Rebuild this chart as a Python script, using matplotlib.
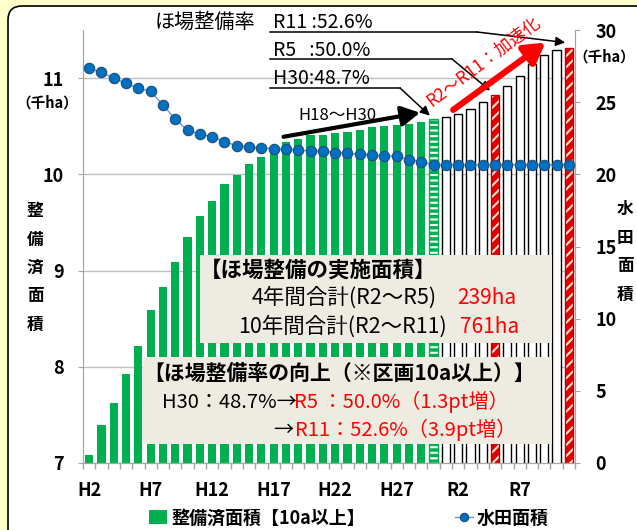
import matplotlib
matplotlib.use("Agg")
import matplotlib.pyplot as plt
import numpy as np
from matplotlib.patches import FancyBboxPatch, Rectangle, Patch
from matplotlib.lines import Line2D

plt.rcParams['font.family'] = ['Noto Sans CJK JP', 'DejaVu Sans']
plt.rcParams['hatch.linewidth'] = 1.5

# categories: H2 .. H30, R1 .. R11
cats = [f'H{i}' for i in range(2, 31)] + [f'R{i}' for i in range(1, 12)]
tick_pos = [0, 5, 10, 15, 20, 25, 30, 35]
tick_labels = ['H2', 'H7', 'H12', 'H17', 'H22', 'H27', 'R2', 'R7']

# 整備済面積 (千ha, left axis)
seibi = [7.08, 7.39, 7.62, 7.93, 8.22, 8.59, 8.83, 9.09, 9.35, 9.57,
         9.72, 9.90, 9.99, 10.11, 10.18, 10.26, 10.34, 10.37, 10.41, 10.41,
         10.43, 10.44, 10.46, 10.49, 10.50, 10.51, 10.52, 10.54, 10.57, 10.60,
         10.63, 10.68, 10.75, 10.82, 10.92, 11.02, 11.15, 11.24, 11.29, 11.31]

# 水田面積 (千ha, right axis)
suiden = [27.34, 27.06, 26.67, 26.30, 25.97, 25.74, 24.81, 23.82, 23.06, 22.78,
          22.62, 22.27, 21.97, 21.90, 21.81, 21.78, 21.74, 21.69, 21.62, 21.62,
          21.50, 21.46, 21.39, 21.34, 21.27, 21.27, 21.02, 20.88, 20.65, 20.67,
          20.67, 20.67, 20.67, 20.67, 20.67, 20.67, 20.67, 20.67, 20.67, 20.67]

i_h30 = cats.index('H30')
i_r5 = cats.index('R5')
i_r11 = cats.index('R11')

GREEN = '#00B050'
RED = '#E00000'
GREY = '#A6A6A6'

W, H = 637, 530


def fx(px):
    return px / W


def fy(py):
    return 1 - py / H


fig = plt.figure(figsize=(W / 100, H / 100), dpi=100, facecolor='#FFFFCC')

# white rounded panel
panel = FancyBboxPatch((0.08, -0.3), 7.0, (H - 6) / 100 + 0.3,
                       boxstyle='round,pad=0,rounding_size=0.14',
                       transform=fig.dpi_scale_trans, facecolor='white',
                       edgecolor='black', lw=1.2, zorder=-1)
fig.add_artist(panel)

ax = fig.add_axes([fx(83), fy(463), (575 - 83) / W, (463 - 30) / H])
ax.patch.set_visible(False)
ax2 = ax.twinx()

x = np.arange(len(cats))
bw = 0.66

past = [i for i in x if i < i_h30]
plan = [i for i in x if i > i_h30 and i not in (i_r5, i_r11)]
red = [i_r5, i_r11]

ax.bar(past, [seibi[i] for i in past], width=bw, color=GREEN, zorder=2)
ax.bar(i_h30, seibi[i_h30], width=bw, color=GREEN, edgecolor='white',
       hatch='---', lw=0, zorder=2)
ax.bar(i_h30, seibi[i_h30], width=bw, fill=False, edgecolor=GREEN, lw=1, zorder=2)
ax.bar(plan, [seibi[i] for i in plan], width=bw, color='white',
       edgecolor='black', lw=1, zorder=2)
ax.bar(red, [seibi[i] for i in red], width=bw, color=RED, edgecolor='#FFE6D5',
       hatch='///', lw=0, zorder=2)
ax.bar(red, [seibi[i] for i in red], width=bw, fill=False, edgecolor='#C00000',
       lw=1, zorder=2)

ax2.plot(x, suiden, color='#5B9BD5', lw=1, marker='o', ms=7.5,
         mfc='#0070C0', mec='#1F4E79', mew=0.8, zorder=3)

ax.set_xlim(-0.5, len(cats) - 0.5)
ax.set_ylim(7, 11.5)
ax2.set_ylim(0, 30)
ax.set_yticks([7, 8, 9, 10, 11])
ax2.set_yticks([0, 5, 10, 15, 20, 25, 30])
ax.set_xticks(tick_pos)
ax.set_xticklabels(tick_labels)
ax.set_xticks(np.arange(-0.5, len(cats), 1), minor=True)
ax.tick_params(axis='x', which='major', length=0, pad=13, labelsize=13)
ax.tick_params(axis='x', which='minor', length=4.5, color=GREY, width=1)
ax.tick_params(axis='y', length=3.6, color=GREY, pad=10, labelsize=13)
ax2.tick_params(axis='y', length=3.6, color=GREY, pad=11, labelsize=13)
for t in ax.get_xticklabels() + ax.get_yticklabels() + ax2.get_yticklabels():
    t.set_fontweight('bold')
for a in (ax, ax2):
    a.spines['top'].set_visible(False)
    for s in ('left', 'right', 'bottom'):
        a.spines[s].set_color(GREY)
ax.grid(axis='y', color='#BFBFBF', lw=1)
ax.set_axisbelow(True)

# axis captions
fig.text(fx(35), fy(268), '\n'.join('整備済面積'), ha='center', va='center',
         fontsize=12, fontweight='bold', linespacing=1.75)
fig.text(fx(47), fy(103), '（千ha）', ha='center', va='center', fontsize=10.5,
         fontweight='bold')
fig.text(fx(625), fy(252), '\n'.join('水田面積'), ha='center', va='center',
         fontsize=12, fontweight='bold', linespacing=1.75)
fig.text(fx(635), fy(57), '（千ha）', ha='right', va='center', fontsize=10.5,
         fontweight='bold')

# top labels and arrows to bars
fig.text(fx(155), fy(22), 'ほ場整備率', ha='left', va='center', fontsize=14.5)
rates = [('R11 :52.6%', 22, 32, 477, i_r11 - 0.3, seibi[i_r11] + 0.06),
         ('R5   :50.0%', 50, 59, 452, i_r5 - 0.4, seibi[i_r5] + 0.05),
         ('H30:48.7%', 78, 88, 400, i_h30 - 0.3, seibi[i_h30] + 0.04)]
for label, ty, uy, bend, tx, tv in rates:
    fig.text(fx(273), fy(ty), label, ha='left', va='center', fontsize=14)
    fig.add_artist(Line2D([fx(270), fx(bend)], [fy(uy), fy(uy)],
                          transform=fig.transFigure, color='black', lw=1.1))
    ax.annotate('', xy=(tx, tv), xycoords='data',
                xytext=(bend, H - uy), textcoords='figure pixels',
                arrowprops=dict(arrowstyle='-|>', color='black', lw=1.1,
                                mutation_scale=14, shrinkA=0, shrinkB=0))

# H18〜H30 arrow
ax.annotate('', xy=(26.9, 10.64), xytext=(15.8, 10.39),
            arrowprops=dict(arrowstyle='-|>,head_length=0.55,head_width=0.3',
                            color='black', lw=3, mutation_scale=20,
                            shrinkA=0, shrinkB=0))
fig.text(fx(337), fy(115), 'H18〜H30', ha='center', va='center', fontsize=12)

# R2〜R11 acceleration arrow
ax.annotate('', xy=(37.1, 11.37), xytext=(29.6, 10.67),
            arrowprops=dict(arrowstyle='-|>,head_length=0.6,head_width=0.35',
                            color='red', lw=4.5, mutation_scale=20,
                            shrinkA=0, shrinkB=0))
fig.text(fx(483), fy(62), 'R2〜R11：加速化', ha='center', va='center',
         fontsize=12.5, color='red', rotation=37, rotation_mode='anchor')

# info boxes
fig.add_artist(Rectangle((fx(200), fy(343)), 352 / W, 88 / H,
                         transform=fig.transFigure, facecolor='#EEECE1',
                         edgecolor='none', zorder=1))
fig.add_artist(Rectangle((fx(143), fy(444)), 409 / W, 87 / H,
                         transform=fig.transFigure, facecolor='#EEECE1',
                         edgecolor='none', zorder=1))

box_texts = [
    (200, 270, '【ほ場整備の実施面積】', 'black', 15.5, 'bold', 'left'),
    (344, 298, '4年間合計(R2〜R5)', 'black', 15.5, 'normal', 'center'),
    (457, 298, '239ha', 'red', 15, 'normal', 'left'),
    (343, 327, '10年間合計(R2〜R11)', 'black', 15.5, 'normal', 'center'),
    (460, 327, '761ha', 'red', 15, 'normal', 'left'),
    (143, 373, '【ほ場整備率の向上（※区画10a以上）】', 'black', 15, 'bold', 'left'),
    (162, 402, 'H30：48.7%→', 'black', 14.5, 'normal', 'left'),
    (294, 402, 'R5 ：50.0%（1.3pt増）', 'red', 14.5, 'normal', 'left'),
    (273, 430, '→', 'black', 14.5, 'normal', 'left'),
    (295, 430, 'R11：52.6%（3.9pt増）', 'red', 14.5, 'normal', 'left'),
]
for px, py, s, c, fs, fw, ha in box_texts:
    fig.text(fx(px), fy(py), s, ha=ha, va='center', color=c,
             fontsize=fs, fontweight=fw, zorder=5)

# legend
handles = [Patch(facecolor=GREEN, edgecolor='none'),
           Line2D([], [], color='#5B9BD5', lw=1, marker='o', ms=6,
                  mfc='#0070C0', mec='#1F4E79', mew=0.8)]
fig.legend(handles, ['整備済面積【10a以上】', '水田面積'], loc='center',
           bbox_to_anchor=(fx(349), fy(518)), ncol=2, frameon=False,
           prop={'size': 13, 'weight': 'bold'}, columnspacing=5.0,
           handlelength=1.0, handletextpad=0.2, handleheight=0.8)

fig.savefig('out.png', dpi=100, facecolor=fig.get_facecolor())
